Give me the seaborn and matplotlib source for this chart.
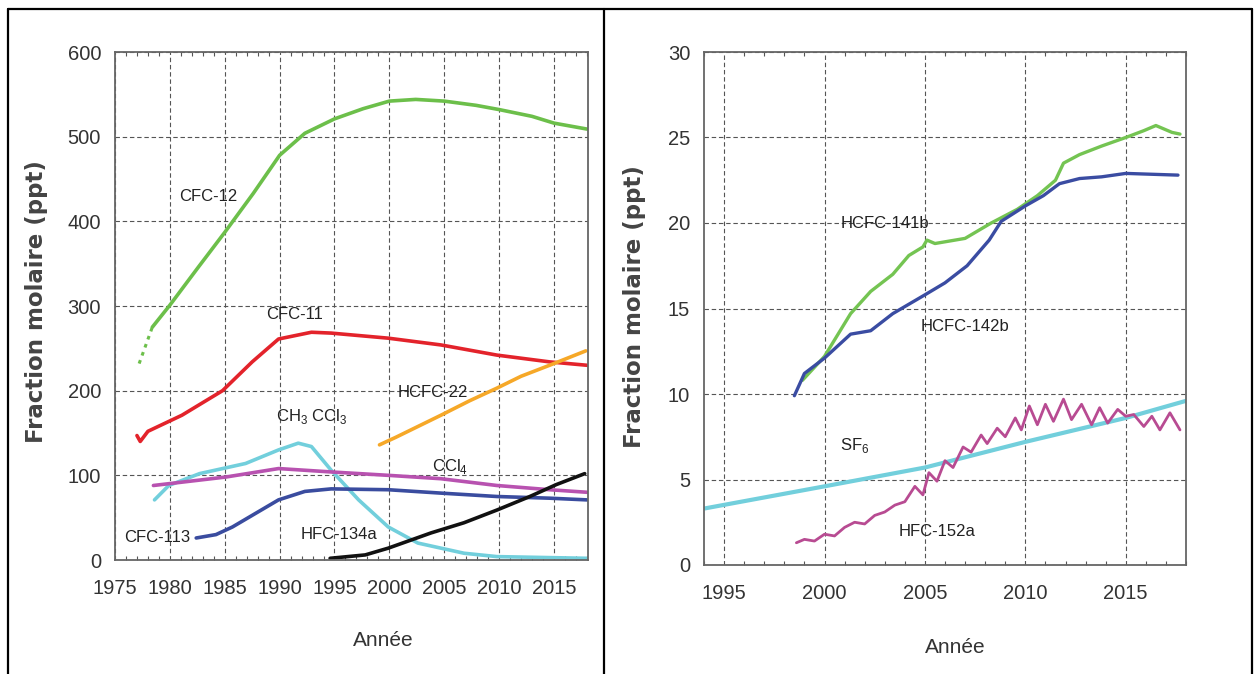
import matplotlib
matplotlib.use("Agg")
import matplotlib.pyplot as plt
from matplotlib.lines import Line2D
from matplotlib.ticker import MultipleLocator
import seaborn as sns
import pandas as pd

# ---------------- Left panel: major halocarbons (ppt) ----------------
cfc12_year = [1977.2, 1978.4, 1980.0, 1982.6, 1985.0, 1987.6, 1990.0, 1992.3, 1995.0,
              1997.6, 2000.0, 2002.4, 2005.0, 2007.9, 2010.0, 2013.0, 2015.0, 2018.0]
cfc12 = [232, 275, 301, 346, 387, 433, 478, 504, 521, 533, 542, 544, 542, 537, 532, 524, 516, 509]

cfc11_year = [1977.0, 1977.3, 1978.0, 1981.1, 1984.8, 1987.5, 1989.9, 1992.9, 1994.7,
              1999.9, 2004.7, 2009.8, 2014.6, 2018.0]
cfc11 = [147, 140, 152, 171, 200, 234, 261, 269, 268, 262, 254, 242, 234, 230]

hcfc22_year = [1999.1, 2000.6, 2004.7, 2007.3, 2009.8, 2012.0, 2014.6, 2017.9]
hcfc22 = [136, 145, 171, 188, 203, 217, 230, 247]

ch3ccl3_year = [1978.6, 1979.9, 1982.7, 1986.9, 1989.9, 1991.7, 1992.9, 1994.7, 1997.2,
                1999.9, 2002.6, 2006.8, 2009.8, 2018.0]
ch3ccl3 = [71, 88, 102, 114, 130, 138, 134, 106, 71, 39, 20, 8, 4, 2]

ccl4_year = [1978.5, 1985.1, 1989.9, 1994.7, 1999.9, 2004.7, 2009.8, 2014.6, 2018.0]
ccl4 = [88, 98, 108, 104, 100, 96, 88, 83, 80]

cfc113_year = [1982.4, 1984.2, 1985.7, 1987.8, 1989.9, 1992.3, 1994.7, 1999.9, 2004.7,
               2009.8, 2014.6, 2018.0]
cfc113 = [26, 30, 39, 55, 71, 81, 84, 83, 79, 75, 73, 71]

hfc134a_year = [1994.6, 1997.8, 1999.9, 2003.8, 2006.8, 2009.8, 2012.8, 2015.2, 2017.8]
hfc134a = [2, 6, 14, 32, 44, 59, 75, 89, 102]

# ---------------- Right panel: minor species (ppt) ----------------
hcfc141b_year = [1998.9, 2000.0, 2001.3, 2002.3, 2003.4, 2004.2, 2004.9, 2005.1, 2005.5,
                 2006.0, 2007.0, 2008.3, 2009.6, 2010.6, 2011.5, 2011.9, 2012.7, 2013.8,
                 2015.0, 2015.9, 2016.5, 2017.3, 2017.7]
hcfc141b = [10.8, 12.2, 14.7, 16.0, 17.0, 18.1, 18.6, 19.0, 18.8, 18.9, 19.1, 20.0, 20.8,
            21.6, 22.5, 23.5, 24.0, 24.5, 25.0, 25.4, 25.7, 25.3, 25.2]

hcfc142b_year = [1998.5, 1999.0, 2000.0, 2001.3, 2002.3, 2003.4, 2005.0, 2006.0, 2007.1,
                 2008.2, 2008.8, 2010.0, 2010.9, 2011.7, 2012.7, 2013.8, 2015.0, 2017.6]
hcfc142b = [9.9, 11.2, 12.1, 13.5, 13.7, 14.7, 15.8, 16.5, 17.5, 19.0, 20.1, 21.0, 21.6,
            22.3, 22.6, 22.7, 22.9, 22.8]

sf6_year = [1994.0, 2000.0, 2005.0, 2010.0, 2015.0, 2018.0]
sf6 = [3.3, 4.6, 5.7, 7.2, 8.6, 9.6]

hfc152a_year = [1998.6, 1999.0, 1999.5, 2000.0, 2000.5, 2001.0, 2001.5, 2002.0, 2002.5,
                2003.0, 2003.5, 2004.0, 2004.5, 2004.9, 2005.2, 2005.6, 2006.0, 2006.4,
                2006.9, 2007.3, 2007.8, 2008.1, 2008.6, 2009.0, 2009.5, 2009.8, 2010.2,
                2010.6, 2011.0, 2011.4, 2011.9, 2012.3, 2012.8, 2013.3, 2013.7, 2014.1,
                2014.6, 2015.0, 2015.4, 2015.9, 2016.3, 2016.7, 2017.2, 2017.7]
hfc152a = [1.3, 1.5, 1.4, 1.8, 1.7, 2.2, 2.5, 2.4, 2.9, 3.1, 3.5, 3.7, 4.6, 4.1, 5.4, 4.9,
           6.1, 5.7, 6.9, 6.6, 7.6, 7.1, 8.0, 7.5, 8.6, 7.9, 9.3, 8.2, 9.4, 8.4, 9.7, 8.5,
           9.4, 8.2, 9.2, 8.3, 9.1, 8.7, 8.8, 8.1, 8.7, 7.9, 8.9, 7.9]

left_ticks_x = [1975, 1980, 1985, 1990, 1995, 2000, 2005, 2010, 2015]
left_ticks_y = [0, 100, 200, 300, 400, 500, 600]
right_ticks_x = [1995, 2000, 2005, 2010, 2015]
right_ticks_y = [0, 5, 10, 15, 20, 25, 30]

sns.set_style("white")
plt.rcParams["font.family"] = ["Liberation Sans", "DejaVu Sans"]
plt.rcParams["mathtext.fontset"] = "custom"
plt.rcParams["mathtext.rm"] = "Liberation Sans"

fig = plt.figure(figsize=(12.57, 6.74), dpi=100)
ax1 = fig.add_axes([115 / 1257, 114 / 674, 473 / 1257, 508 / 674])
ax2 = fig.add_axes([704 / 1257, 109 / 674, 482 / 1257, 513 / 674])

TXT = "#333333"


def draw(ax, years, values, color, lw=2.6, ls="-"):
    df = pd.DataFrame({"Année": years, "ppt": values})
    sns.lineplot(data=df, x="Année", y="ppt", ax=ax, color=color, lw=lw, ls=ls,
                 estimator=None, sort=False, solid_capstyle="round")


# left panel series (the sparse early CFC-12 record is dotted)
draw(ax1, cfc12_year[:2], cfc12[:2], "#6cbf4a", lw=2.2, ls=(0, (1.2, 1.6)))
draw(ax1, cfc12_year[1:], cfc12[1:], "#6cbf4a")
draw(ax1, cfc11_year, cfc11, "#e3232b")
draw(ax1, hcfc22_year, hcfc22, "#f6a828")
draw(ax1, ch3ccl3_year, ch3ccl3, "#72cfdc")
draw(ax1, ccl4_year, ccl4, "#b852b0")
draw(ax1, cfc113_year, cfc113, "#3a4c9f")
draw(ax1, hfc134a_year, hfc134a, "#111111")

# right panel series
draw(ax2, sf6_year, sf6, "#72cfdc", lw=3.0)
draw(ax2, hfc152a_year, hfc152a, "#b84b92", lw=2.0)
draw(ax2, hcfc141b_year, hcfc141b, "#74c452", lw=2.4)
draw(ax2, hcfc142b_year, hcfc142b, "#3a4ca2", lw=2.4)

lab_kw = dict(fontsize=12, color="#222222", ha="center", va="center")
ax1.text(1983.5, 429, "CFC-12", **lab_kw)
ax1.text(1991.4, 290, "CFC-11", **lab_kw)
ax1.text(2004.0, 198, "HCFC-22", **lab_kw)
ax1.text(1992.9, 169, r"CH$_\mathregular{3}$ CCl$_\mathregular{3}$", **lab_kw)
ax1.text(2005.5, 111, r"CCl$_\mathregular{4}$", **lab_kw)
ax1.text(1978.8, 27, "CFC-113", **lab_kw)
ax1.text(1995.4, 30, "HFC-134a", **lab_kw)

ax2.text(2003.0, 20.0, "HCFC-141b", **lab_kw)
ax2.text(2007.0, 13.95, "HCFC-142b", **lab_kw)
ax2.text(2001.5, 7.0, r"SF$_\mathregular{6}$", **lab_kw)
ax2.text(2005.6, 1.95, "HFC-152a", **lab_kw)


def style(ax, xlim, ylim, xt, yt):
    ax.set_xlim(*xlim)
    ax.set_ylim(*ylim)
    ax.set_xticks(xt)
    ax.set_yticks(yt)
    ax.xaxis.set_minor_locator(MultipleLocator(1))
    ax.grid(True, which="major", color="#555555", lw=0.8, ls=(0, (4, 2.5)))
    for s in ax.spines.values():
        s.set_visible(True)
        s.set_color("#666666")
        s.set_linewidth(1.3)
    ax.tick_params(axis="x", which="major", direction="in", length=0, pad=14,
                   labelsize=14.5, labelcolor=TXT)
    ax.tick_params(axis="x", which="minor", direction="in", length=3, width=0.8,
                   color="#555555", top=True, bottom=True)
    ax.tick_params(axis="y", which="major", direction="in", length=0, pad=10,
                   labelsize=14.5, labelcolor=TXT)
    ax.set_ylabel("Fraction molaire (ppt)", fontsize=16.5, fontweight="bold",
                  family="DejaVu Sans", color="#444444")
    ax.set_xlabel("Année", fontsize=15, color=TXT)


style(ax1, (1975, 2018.1), (0, 600), left_ticks_x, left_ticks_y)
style(ax2, (1994, 2018), (0, 30), right_ticks_x, right_ticks_y)

# axis-title placement
ax1.yaxis.set_label_coords((48 - 115) / 473, (674 - 302 - 114) / 508)
ax2.yaxis.set_label_coords((646 - 704) / 482, (674 - 307 - 109) / 513)
ax1.xaxis.set_label_coords((383 - 115) / 473, -(631 - 560) / 508)
ax2.xaxis.set_label_coords((955 - 704) / 482, -(638 - 565) / 513)

# table-like frame around the two panels
W, H = 1257, 674
frame = dict(color="black", lw=1.6, transform=fig.transFigure)
fig.add_artist(Line2D([8 / W, 1252 / W], [1 - 9 / H, 1 - 9 / H], **frame))
fig.add_artist(Line2D([8 / W, 8 / W], [0, 1 - 9 / H], **frame))
fig.add_artist(Line2D([603.5 / W, 603.5 / W], [0, 1 - 9 / H], **frame))
fig.add_artist(Line2D([1252 / W, 1252 / W], [0, 1 - 9 / H], **frame))

fig.savefig("out.png", dpi=100)
